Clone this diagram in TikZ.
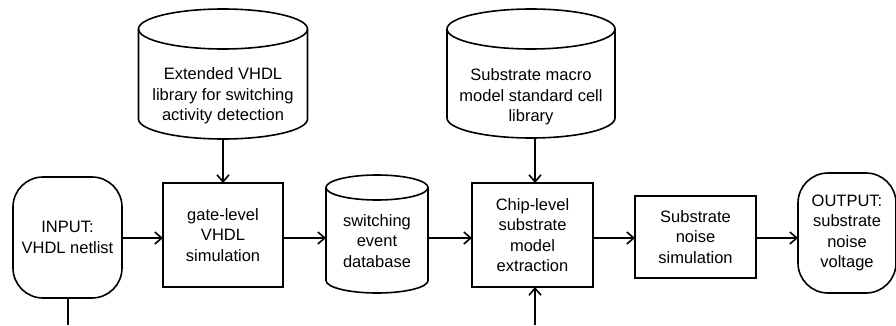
\documentclass[tikz,border=0pt]{standalone}
\usepackage{fontspec}
\setmainfont{Liberation Sans}
\usetikzlibrary{arrows.meta,calc}
\tikzset{
  lw/.style={line width=1.6pt},
  lab/.style={font=\fontsize{16.5}{20.5}\selectfont, align=center, inner sep=0pt, outer sep=0pt},
  procbox/.style={lab, draw, lw, rectangle},
  termbox/.style={lab, draw, lw, rectangle, rounded corners=30pt},
  cylframe/.style={rectangle, inner sep=0pt, outer sep=0pt},
  arr/.style={lw, -{Straight Barb[length=7pt,width=12pt]}},
  plain/.style={lw},
}
\begin{document}
\begin{tikzpicture}[x=1pt,y=1pt]
\useasboundingbox (0,0) rectangle (896,325);
% process and terminal boxes
\node[termbox, minimum width=109pt, minimum height=121pt] (in) at (67.5,87.5) {INPUT:\\VHDL netlist};
\node[procbox, minimum width=120pt, minimum height=104pt] (gate) at (223,90) {gate-level\\VHDL\\simulation};
\node[procbox, minimum width=121pt, minimum height=104pt] (chip) at (532.5,90) {Chip-level\\substrate\\model\\extraction};
\node[procbox, minimum width=121pt, minimum height=82pt] (noise) at (695.5,88) {Substrate\\noise\\simulation};
\node[termbox, minimum width=98pt, minimum height=120pt] (out) at (847,92) {OUTPUT:\\substrate\\noise\\voltage};
% cylinders
\node[cylframe, minimum width=169pt, minimum height=130pt] (ext) at (223,251) {};
\draw[lw] ([yshift=-20pt]ext.north west) -- ([yshift=20pt]ext.south west)
  arc[start angle=180,end angle=360,x radius=84.5pt,y radius=20pt]
  -- ([yshift=-20pt]ext.north east)
  arc[start angle=0,end angle=180,x radius=84.5pt,y radius=20pt] -- cycle;
\draw[lw] ([yshift=-20pt]ext.north west) arc[start angle=180,end angle=360,x radius=84.5pt,y radius=20pt];
\node[lab] (extText) at (223,229) {Extended VHDL\\library for switching\\activity detection};

\node[cylframe, minimum width=168pt, minimum height=129pt] (mac) at (531,251.5) {};
\draw[lw] ([yshift=-20pt]mac.north west) -- ([yshift=20pt]mac.south west)
  arc[start angle=180,end angle=360,x radius=84pt,y radius=20pt]
  -- ([yshift=-20pt]mac.north east)
  arc[start angle=0,end angle=180,x radius=84pt,y radius=20pt] -- cycle;
\draw[lw] ([yshift=-20pt]mac.north west) arc[start angle=180,end angle=360,x radius=84pt,y radius=20pt];
\node[lab] (macText) at (531,228) {Substrate macro\\model standard cell\\library};

\node[cylframe, minimum width=102pt, minimum height=118pt] (sw) at (377,91) {};
\draw[lw] ([yshift=-12.5pt]sw.north west) -- ([yshift=12.5pt]sw.south west)
  arc[start angle=180,end angle=360,x radius=51pt,y radius=12.5pt]
  -- ([yshift=-12.5pt]sw.north east)
  arc[start angle=0,end angle=180,x radius=51pt,y radius=12.5pt] -- cycle;
\draw[lw] ([yshift=-12.5pt]sw.north west) arc[start angle=180,end angle=360,x radius=51pt,y radius=12.5pt];
\node[lab] (swText) at (377,84) {switching\\event\\database};

% connectors
\coordinate (row) at (0,87);
\draw[arr] (in.east |- row) -- (gate.west |- row);
\draw[arr] (gate.east |- row) -- (sw.west |- row);
\draw[arr] (sw.east |- row) -- (chip.west |- row);
\draw[arr] (chip.east |- row) -- (noise.west |- row);
\draw[arr] (noise.east |- row) -- (out.west |- row);
\draw[arr] (ext.south) -- (ext.south |- gate.north);
\coordinate (chipCol) at (535,0);
\draw[arr] (mac.south -| chipCol) -- (chip.north -| chipCol);
\coordinate (inEnd) at (68,0);
\draw[plain] (in.south -| inEnd) -- (inEnd);
\draw[arr] (chipCol) -- (chip.south -| chipCol);
\end{tikzpicture}
\end{document}
